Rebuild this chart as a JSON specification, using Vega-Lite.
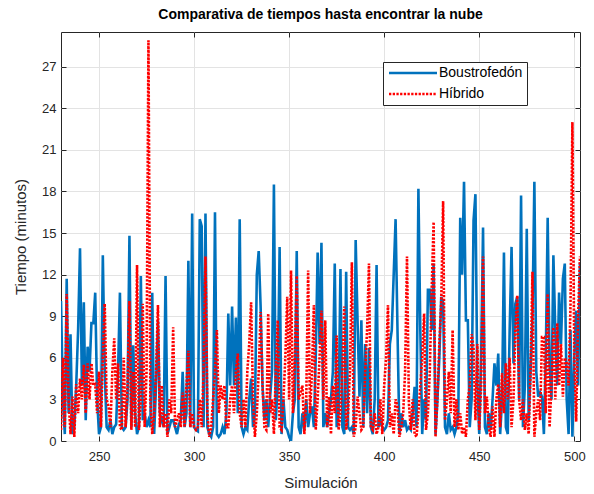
{
"$schema": "https://vega.github.io/schema/vega-lite/v6.json",
"width": 519, "height": 409,
"autosize": "none",
"padding": {"left": 61, "top": 32, "right": 14, "bottom": 53},
"title": {"text": "Comparativa de tiempos hasta encontrar la nube", "fontSize": 14, "fontWeight": "bold", "font": "Liberation Sans", "color": "#000000", "offset": 10, "anchor": "middle"},
"config": {
  "font": "Liberation Sans",
  "view": {"stroke": "#262626", "strokeWidth": 1},
  "axis": {"labelFont": "Liberation Sans", "titleFont": "Liberation Sans", "labelFontSize": 13, "titleFontSize": 15, "labelColor": "#262626", "titleColor": "#262626", "titleFontWeight": "normal", "domainColor": "#262626", "tickColor": "#262626", "gridColor": "#e3e3e3", "gridWidth": 1},
  "legend": {"orient": "none", "legendX": 322, "legendY": 30, "strokeColor": "#262626", "fillColor": "#ffffff", "padding": 4, "symbolType": "M-4.8,0H4.8", "symbolSize": 100, "symbolOffset": 19, "symbolStrokeWidth": 2.6, "labelFont": "Liberation Sans", "labelFontSize": 14, "labelColor": "#000000", "labelOffset": 19, "rowPadding": 7}
},
"data": {"values": [
{"sim":230,"b":10.1,"h":0.8},{"sim":231,"b":3,"h":6},{"sim":232,"b":0.5,"h":1},{"sim":233,"b":11.7,"h":10.6},{"sim":234,"b":2,"h":3},{"sim":235,"b":7.7,"h":0.5},{"sim":236,"b":0.5,"h":3.2},{"sim":237,"b":1,"h":0.3},{"sim":238,"b":4,"h":4.1},{"sim":239,"b":8,"h":2},
{"sim":240,"b":13.9,"h":4.5},{"sim":241,"b":4,"h":3},{"sim":242,"b":10,"h":5.5},{"sim":243,"b":1.5,"h":2},{"sim":244,"b":6.8,"h":5.6},{"sim":245,"b":5,"h":3},{"sim":246,"b":8.5,"h":5.6},{"sim":247,"b":8.5,"h":4},{"sim":248,"b":10.7,"h":4.1},{"sim":249,"b":3,"h":2},
{"sim":250,"b":0.5,"h":5},{"sim":251,"b":1,"h":1},{"sim":252,"b":13.4,"h":6},{"sim":253,"b":5,"h":9.9},{"sim":254,"b":1,"h":3},{"sim":255,"b":0.8,"h":2.5},{"sim":256,"b":1.5,"h":1},{"sim":257,"b":0.5,"h":5},{"sim":258,"b":1,"h":7.4},{"sim":259,"b":1.2,"h":3},
{"sim":260,"b":5,"h":5.6},{"sim":261,"b":10.7,"h":1},{"sim":262,"b":1,"h":0.8},{"sim":263,"b":0.8,"h":6},{"sim":264,"b":1,"h":1},{"sim":265,"b":3,"h":4},{"sim":266,"b":14.8,"h":10.1},{"sim":267,"b":1,"h":0.8},{"sim":268,"b":6.9,"h":5},{"sim":269,"b":2,"h":1},
{"sim":270,"b":0.5,"h":12.7},{"sim":271,"b":1,"h":0.8},{"sim":272,"b":11.9,"h":3},{"sim":273,"b":1.5,"h":9.9},{"sim":274,"b":2,"h":1},{"sim":275,"b":1,"h":5},{"sim":276,"b":1.5,"h":28.9},{"sim":277,"b":1,"h":3},{"sim":278,"b":10.7,"h":0.5},{"sim":279,"b":0.5,"h":2},
{"sim":280,"b":4,"h":5},{"sim":281,"b":8.7,"h":9.8},{"sim":282,"b":2,"h":1},{"sim":283,"b":1.5,"h":4},{"sim":284,"b":1,"h":1},{"sim":285,"b":11.9,"h":2},{"sim":286,"b":0.5,"h":0.3},{"sim":287,"b":1,"h":3},{"sim":288,"b":1.5,"h":2},{"sim":289,"b":1.5,"h":8.2},
{"sim":290,"b":1,"h":1},{"sim":291,"b":0.5,"h":1.5},{"sim":292,"b":1.2,"h":2},{"sim":293,"b":1.5,"h":1},{"sim":294,"b":5,"h":3.5},{"sim":295,"b":1,"h":1},{"sim":296,"b":2,"h":4},{"sim":297,"b":13,"h":6.5},{"sim":298,"b":1,"h":1},{"sim":299,"b":16.4,"h":2},
{"sim":300,"b":1,"h":1},{"sim":301,"b":0.8,"h":0.8},{"sim":302,"b":0.7,"h":1},{"sim":303,"b":16,"h":3},{"sim":304,"b":15.5,"h":1},{"sim":305,"b":1,"h":5},{"sim":306,"b":16.4,"h":13.3},{"sim":307,"b":1,"h":2},{"sim":308,"b":0.5,"h":0.3},{"sim":309,"b":0.3,"h":1},
{"sim":310,"b":1,"h":3},{"sim":311,"b":16.5,"h":5},{"sim":312,"b":0.5,"h":8},{"sim":313,"b":0.3,"h":2},{"sim":314,"b":0.5,"h":4},{"sim":315,"b":1,"h":3},{"sim":316,"b":0.5,"h":4},{"sim":317,"b":2,"h":1},{"sim":318,"b":9.2,"h":1},{"sim":319,"b":4,"h":3},
{"sim":320,"b":9.7,"h":4},{"sim":321,"b":4,"h":2},{"sim":322,"b":8.9,"h":5},{"sim":323,"b":2,"h":6.3},{"sim":324,"b":16,"h":2},{"sim":325,"b":1,"h":1},{"sim":326,"b":0.5,"h":3},{"sim":327,"b":1,"h":1},{"sim":328,"b":0.8,"h":5},{"sim":329,"b":3,"h":7},
{"sim":330,"b":4.5,"h":10},{"sim":331,"b":1,"h":3},{"sim":332,"b":2,"h":0.3},{"sim":333,"b":12,"h":2},{"sim":334,"b":13.7,"h":5},{"sim":335,"b":9.7,"h":9.3},{"sim":336,"b":4,"h":4},{"sim":337,"b":1.5,"h":1},{"sim":338,"b":3,"h":0.8},{"sim":339,"b":1,"h":9.2},
{"sim":340,"b":3.2,"h":2},{"sim":341,"b":5,"h":3},{"sim":342,"b":18.5,"h":0.5},{"sim":343,"b":1.5,"h":5},{"sim":344,"b":4,"h":8.7},{"sim":345,"b":14,"h":1},{"sim":346,"b":0.5,"h":0.8},{"sim":347,"b":3,"h":3},{"sim":348,"b":1,"h":6},{"sim":349,"b":0.8,"h":10.4},
{"sim":350,"b":0.3,"h":3},{"sim":351,"b":0,"h":12.3},{"sim":352,"b":2,"h":2},{"sim":353,"b":3,"h":6},{"sim":354,"b":13.7,"h":11.9},{"sim":355,"b":1,"h":3},{"sim":356,"b":0.5,"h":3.5},{"sim":357,"b":2,"h":4},{"sim":358,"b":0.8,"h":0.5},{"sim":359,"b":3,"h":3},
{"sim":360,"b":1,"h":12.3},{"sim":361,"b":2,"h":2},{"sim":362,"b":2.5,"h":5},{"sim":363,"b":1,"h":9.8},{"sim":364,"b":6,"h":0.8},{"sim":365,"b":13.6,"h":3},{"sim":366,"b":7,"h":6},{"sim":367,"b":14.3,"h":9.4},{"sim":368,"b":1,"h":3},{"sim":369,"b":2,"h":8.7},
{"sim":370,"b":1,"h":1},{"sim":371,"b":2,"h":3.2},{"sim":372,"b":3,"h":0.5},{"sim":373,"b":5,"h":4},{"sim":374,"b":12.8,"h":2},{"sim":375,"b":1,"h":7.6},{"sim":376,"b":2,"h":0.8},{"sim":377,"b":12.4,"h":2},{"sim":378,"b":1,"h":5},{"sim":379,"b":0.5,"h":9.7},
{"sim":380,"b":12.2,"h":0.8},{"sim":381,"b":1,"h":2},{"sim":382,"b":0.8,"h":5},{"sim":383,"b":1,"h":12.9},{"sim":384,"b":0.5,"h":0.3},{"sim":385,"b":14.5,"h":1},{"sim":386,"b":8.6,"h":3.2},{"sim":387,"b":3.2,"h":2},{"sim":388,"b":8.7,"h":0.8},{"sim":389,"b":1,"h":1},
{"sim":390,"b":7,"h":5},{"sim":391,"b":2,"h":8},{"sim":392,"b":6.7,"h":12.8},{"sim":393,"b":1,"h":1},{"sim":394,"b":0.5,"h":0.8},{"sim":395,"b":3,"h":2},{"sim":396,"b":12.7,"h":0.5},{"sim":397,"b":1,"h":1},{"sim":398,"b":1.5,"h":3},{"sim":399,"b":1,"h":0.5},
{"sim":400,"b":0.8,"h":4},{"sim":401,"b":1,"h":6},{"sim":402,"b":1.5,"h":9.8},{"sim":403,"b":7,"h":1},{"sim":404,"b":8,"h":2},{"sim":405,"b":12,"h":0.5},{"sim":406,"b":16,"h":3},{"sim":407,"b":8,"h":2.5},{"sim":408,"b":0.5,"h":0.3},{"sim":409,"b":2,"h":1},
{"sim":410,"b":1,"h":2},{"sim":411,"b":1.5,"h":5},{"sim":412,"b":0.8,"h":13.3},{"sim":413,"b":1,"h":2.7},{"sim":414,"b":0.8,"h":0.8},{"sim":415,"b":2,"h":3},{"sim":416,"b":3.9,"h":0.5},{"sim":417,"b":1,"h":0.3},{"sim":418,"b":18.2,"h":2},{"sim":419,"b":8,"h":4},
{"sim":420,"b":0.5,"h":6},{"sim":421,"b":3,"h":9.2},{"sim":422,"b":1.5,"h":0.8},{"sim":423,"b":10.9,"h":2},{"sim":424,"b":10.9,"h":5},{"sim":425,"b":8,"h":11},{"sim":426,"b":12.8,"h":15.8},{"sim":427,"b":0.5,"h":0.3},{"sim":428,"b":3,"h":3},{"sim":429,"b":6,"h":7},
{"sim":430,"b":10.4,"h":10},{"sim":431,"b":10,"h":17.3},{"sim":432,"b":1,"h":1.5},{"sim":433,"b":0.5,"h":3},{"sim":434,"b":2,"h":5},{"sim":435,"b":0.8,"h":2},{"sim":436,"b":1,"h":8},{"sim":437,"b":0.5,"h":1},{"sim":438,"b":1,"h":3},{"sim":439,"b":2,"h":0.8},
{"sim":440,"b":16.1,"h":2},{"sim":441,"b":12,"h":0.5},{"sim":442,"b":18.7,"h":1},{"sim":443,"b":8.7,"h":0.3},{"sim":444,"b":8.7,"h":3},{"sim":445,"b":1,"h":4},{"sim":446,"b":3,"h":7.7},{"sim":447,"b":15.9,"h":6.8},{"sim":448,"b":17.8,"h":1.5},{"sim":449,"b":4,"h":7},
{"sim":450,"b":0.5,"h":0.8},{"sim":451,"b":6,"h":4},{"sim":452,"b":15.4,"h":13.3},{"sim":453,"b":1,"h":2},{"sim":454,"b":0.5,"h":3.2},{"sim":455,"b":2,"h":1},{"sim":456,"b":0.8,"h":0.3},{"sim":457,"b":3,"h":2.5},{"sim":458,"b":5.6,"h":0.3},{"sim":459,"b":4,"h":3},
{"sim":460,"b":6.3,"h":4.1},{"sim":461,"b":0.5,"h":1},{"sim":462,"b":3,"h":4.9},{"sim":463,"b":13.6,"h":2},{"sim":464,"b":1,"h":5.6},{"sim":465,"b":0.5,"h":3},{"sim":466,"b":8,"h":6},{"sim":467,"b":14,"h":1},{"sim":468,"b":5.6,"h":3},{"sim":469,"b":9.9,"h":8},
{"sim":470,"b":10.4,"h":10.5},{"sim":471,"b":3,"h":3},{"sim":472,"b":17.7,"h":1.5},{"sim":473,"b":1,"h":3},{"sim":474,"b":4,"h":0.8},{"sim":475,"b":15.3,"h":2},{"sim":476,"b":1.5,"h":0.5},{"sim":477,"b":5,"h":5},{"sim":478,"b":9,"h":12.2},{"sim":479,"b":18.7,"h":0.3},
{"sim":480,"b":5,"h":2},{"sim":481,"b":3.2,"h":3},{"sim":482,"b":3.5,"h":1.5},{"sim":483,"b":3.2,"h":7.5},{"sim":484,"b":0.5,"h":7.5},{"sim":485,"b":6,"h":2},{"sim":486,"b":16.1,"h":10.6},{"sim":487,"b":5.6,"h":1},{"sim":488,"b":3,"h":4},{"sim":489,"b":13.4,"h":8.2},
{"sim":490,"b":8,"h":3},{"sim":491,"b":4,"h":8.5},{"sim":492,"b":10.7,"h":4},{"sim":493,"b":7,"h":7},{"sim":494,"b":11.7,"h":3.2},{"sim":495,"b":12.8,"h":6},{"sim":496,"b":3,"h":5.6},{"sim":497,"b":0.5,"h":4},{"sim":498,"b":8,"h":9.7},{"sim":499,"b":0.3,"h":23},
{"sim":500,"b":6,"h":6},{"sim":501,"b":9.4,"h":1.4},{"sim":502,"b":4,"h":9},{"sim":503,"b":12.9,"h":13.3}
]},
"layer": [
  {
    "mark": {"type": "line", "strokeWidth": 2.6, "clip": true},
    "encoding": {
      "x": {"field": "sim", "type": "quantitative", "scale": {"domain": [230, 503], "nice": false, "zero": false}, "axis": {"title": "Simulación", "values": [250, 300, 350, 400, 450, 500], "tickSize": -5, "labelPadding": 14, "titlePadding": 12, "grid": true, "domain": false}},
      "y": {"field": "b", "type": "quantitative", "scale": {"domain": [0, 29.5], "nice": false}, "axis": {"title": "Tiempo (minutos)", "values": [0, 3, 6, 9, 12, 15, 18, 21, 24, 27], "tickSize": -5, "labelPadding": 10, "titlePadding": 13, "grid": true, "domain": false}},
      "color": {"datum": "Boustrofedón", "type": "nominal", "scale": {"domain": ["Boustrofedón", "Híbrido"], "range": ["#0072BD", "#FF0000"]}, "legend": {"title": null}},
      "strokeDash": {"datum": "Boustrofedón", "type": "nominal", "scale": {"domain": ["Boustrofedón", "Híbrido"], "range": [[1, 0], [2.3, 1.4]]}, "legend": {"title": null}}
    }
  },
  {
    "mark": {"type": "line", "strokeWidth": 2.6, "clip": true, "strokeCap": "butt"},
    "encoding": {
      "x": {"field": "sim", "type": "quantitative", "axis": {"orient": "top", "title": null, "values": [250, 300, 350, 400, 450, 500], "labels": false, "tickSize": -5, "grid": false, "domain": false}},
      "y": {"field": "h", "type": "quantitative", "axis": {"orient": "right", "title": null, "values": [0, 3, 6, 9, 12, 15, 18, 21, 24, 27], "labels": false, "tickSize": -5, "grid": false, "domain": false}},
      "color": {"datum": "Híbrido", "type": "nominal"},
      "strokeDash": {"datum": "Híbrido", "type": "nominal"}
    }
  }
],
"resolve": {"axis": {"x": "independent", "y": "independent"}}
}
